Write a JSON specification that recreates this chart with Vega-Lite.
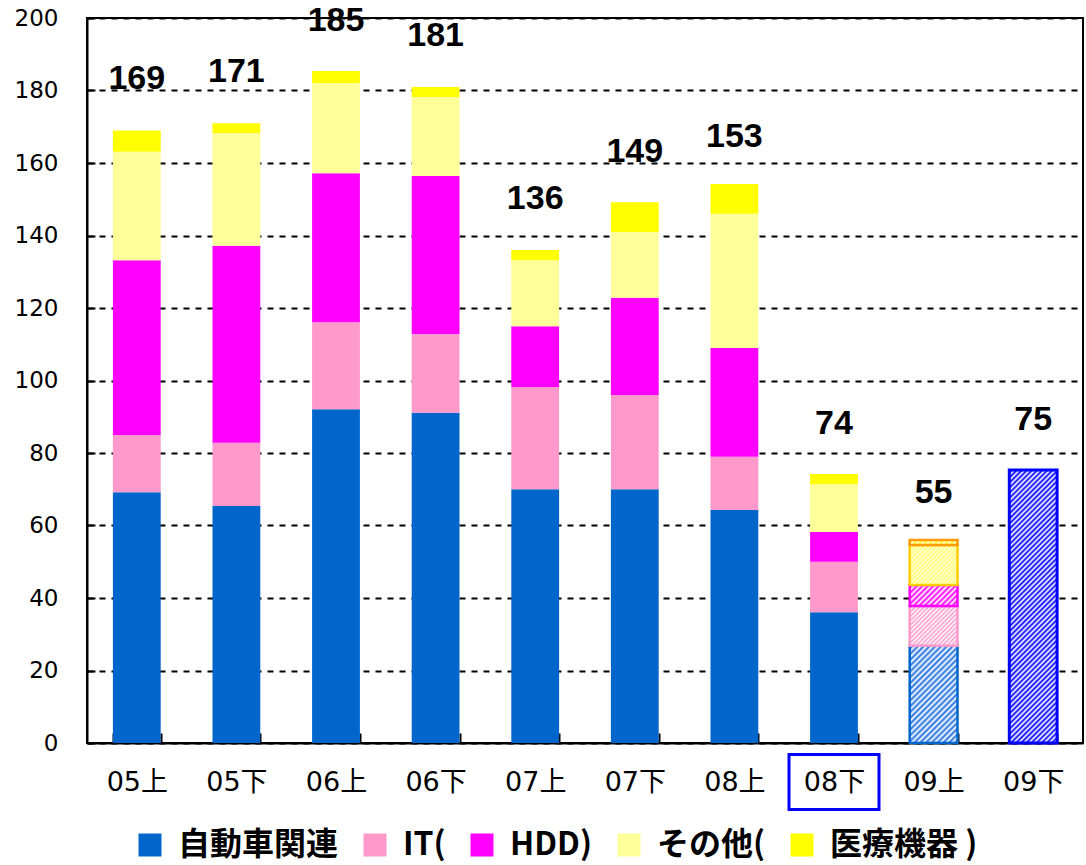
{
  "$schema": "https://vega.github.io/schema/vega-lite/v6.json",
  "width": 996,
  "height": 725,
  "autosize": {"type": "none"},
  "padding": {"left": 87, "top": 18, "right": 3, "bottom": 122},
  "background": "white",
  "config": {"view": {"stroke": "black", "strokeWidth": 2}, "font": "DejaVu Sans"},
  "datasets": {
    "segments": [
      {"period": "05上", "series": "自動車関連", "k": 1, "kind": "実績", "value": 69.2},
      {"period": "05上", "series": "IT(", "k": 2, "kind": "実績", "value": 15.8},
      {"period": "05上", "series": "HDD)", "k": 3, "kind": "実績", "value": 48.2},
      {"period": "05上", "series": "その他(", "k": 4, "kind": "実績", "value": 29.9},
      {"period": "05上", "series": "医療機器 )", "k": 5, "kind": "実績", "value": 5.9},
      {"period": "05下", "series": "自動車関連", "k": 1, "kind": "実績", "value": 65.4},
      {"period": "05下", "series": "IT(", "k": 2, "kind": "実績", "value": 17.4},
      {"period": "05下", "series": "HDD)", "k": 3, "kind": "実績", "value": 54.4},
      {"period": "05下", "series": "その他(", "k": 4, "kind": "実績", "value": 31.1},
      {"period": "05下", "series": "医療機器 )", "k": 5, "kind": "実績", "value": 2.7},
      {"period": "06上", "series": "自動車関連", "k": 1, "kind": "実績", "value": 92.1},
      {"period": "06上", "series": "IT(", "k": 2, "kind": "実績", "value": 24.0},
      {"period": "06上", "series": "HDD)", "k": 3, "kind": "実績", "value": 41.1},
      {"period": "06上", "series": "その他(", "k": 4, "kind": "実績", "value": 24.9},
      {"period": "06上", "series": "医療機器 )", "k": 5, "kind": "実績", "value": 3.3},
      {"period": "06下", "series": "自動車関連", "k": 1, "kind": "実績", "value": 91.1},
      {"period": "06下", "series": "IT(", "k": 2, "kind": "実績", "value": 21.7},
      {"period": "06下", "series": "HDD)", "k": 3, "kind": "実績", "value": 43.6},
      {"period": "06下", "series": "その他(", "k": 4, "kind": "実績", "value": 21.8},
      {"period": "06下", "series": "医療機器 )", "k": 5, "kind": "実績", "value": 2.8},
      {"period": "07上", "series": "自動車関連", "k": 1, "kind": "実績", "value": 70.0},
      {"period": "07上", "series": "IT(", "k": 2, "kind": "実績", "value": 28.2},
      {"period": "07上", "series": "HDD)", "k": 3, "kind": "実績", "value": 16.8},
      {"period": "07上", "series": "その他(", "k": 4, "kind": "実績", "value": 18.2},
      {"period": "07上", "series": "医療機器 )", "k": 5, "kind": "実績", "value": 2.8},
      {"period": "07下", "series": "自動車関連", "k": 1, "kind": "実績", "value": 70.0},
      {"period": "07下", "series": "IT(", "k": 2, "kind": "実績", "value": 26.0},
      {"period": "07下", "series": "HDD)", "k": 3, "kind": "実績", "value": 26.8},
      {"period": "07下", "series": "その他(", "k": 4, "kind": "実績", "value": 18.2},
      {"period": "07下", "series": "医療機器 )", "k": 5, "kind": "実績", "value": 8.2},
      {"period": "08上", "series": "自動車関連", "k": 1, "kind": "実績", "value": 64.3},
      {"period": "08上", "series": "IT(", "k": 2, "kind": "実績", "value": 14.7},
      {"period": "08上", "series": "HDD)", "k": 3, "kind": "実績", "value": 30.0},
      {"period": "08上", "series": "その他(", "k": 4, "kind": "実績", "value": 37.0},
      {"period": "08上", "series": "医療機器 )", "k": 5, "kind": "実績", "value": 8.2},
      {"period": "08下", "series": "自動車関連", "k": 1, "kind": "実績", "value": 36.1},
      {"period": "08下", "series": "IT(", "k": 2, "kind": "実績", "value": 13.9},
      {"period": "08下", "series": "HDD)", "k": 3, "kind": "実績", "value": 8.2},
      {"period": "08下", "series": "その他(", "k": 4, "kind": "実績", "value": 13.2},
      {"period": "08下", "series": "医療機器 )", "k": 5, "kind": "実績", "value": 2.8},
      {"period": "09上", "series": "自動車関連", "k": 1, "kind": "見通し", "value": 26.8},
      {"period": "09上", "series": "IT(", "k": 2, "kind": "見通し", "value": 11.0},
      {"period": "09上", "series": "HDD)", "k": 3, "kind": "見通し", "value": 5.8},
      {"period": "09上", "series": "その他(", "k": 4, "kind": "見通し", "value": 11.0},
      {"period": "09上", "series": "医療機器 )", "k": 5, "kind": "見通し", "value": 1.4},
      {"period": "09下", "series": "合計", "k": 1, "kind": "見通し", "value": 75.3}
    ],
    "totals": [
      {"period": "05上", "total": 169},
      {"period": "05下", "total": 171},
      {"period": "06上", "total": 185},
      {"period": "06下", "total": 181},
      {"period": "07上", "total": 136},
      {"period": "07下", "total": 149},
      {"period": "08上", "total": 153},
      {"period": "08下", "total": 74},
      {"period": "09上", "total": 55},
      {"period": "09下", "total": 75}
    ],
    "marked": [{"period": "08下"}]
  },
  "encoding": {
    "x": {
      "field": "period",
      "type": "nominal",
      "sort": ["05上", "05下", "06上", "06下", "07上", "07下", "08上", "08下", "09上", "09下"],
      "scale": {"paddingInner": 0.52, "paddingOuter": 0.26},
      "axis": {
        "title": null,
        "labelAngle": 0,
        "labelFont": "DejaVu Sans, Noto Sans CJK JP",
        "labelFontSize": 27,
        "labelColor": "black",
        "labelPadding": 36,
        "tickBand": "extent",
        "tickSize": -10,
        "tickColor": "black",
        "tickWidth": 2,
        "domainColor": "black",
        "domainWidth": 2,
        "grid": false
      }
    }
  },
  "layer": [
    {
      "data": {"name": "segments"},
      "transform": [{"filter": "datum.kind === '実績'"}],
      "mark": {"type": "bar"},
      "encoding": {
        "y": {
          "field": "value",
          "type": "quantitative",
          "stack": "zero",
          "scale": {"domain": [0, 200], "nice": false},
          "axis": {
            "title": null,
            "values": [0, 20, 40, 60, 80, 100, 120, 140, 160, 180, 200],
            "labelFont": "DejaVu Sans",
            "labelFontSize": 23,
            "labelColor": "black",
            "labelPadding": 37,
            "tickSize": -8,
            "tickColor": "black",
            "tickWidth": 2,
            "domainColor": "black",
            "domainWidth": 2,
            "grid": true,
            "gridColor": "black",
            "gridWidth": 2,
            "gridDash": [6, 6]
          }
        },
        "order": {"field": "k", "type": "quantitative"},
        "color": {
          "field": "series",
          "type": "nominal",
          "scale": {
            "domain": ["自動車関連", "IT(", "HDD)", "その他(", "医療機器 )"],
            "range": ["#0066cc", "#ff99cc", "#ff00ff", "#ffff99", "#ffff00"]
          },
          "legend": {
            "orient": "none",
            "legendX": 47,
            "legendY": 811,
            "direction": "horizontal",
            "title": null,
            "padding": 0,
            "symbolType": "square",
            "symbolSize": 529,
            "symbolStrokeWidth": 0,
            "labelFont": "Noto Sans CJK JP",
            "labelFontSize": 32,
            "labelFontWeight": "bold",
            "labelColor": "black",
            "labelOffset": 12,
            "labelLimit": 400,
            "columnPadding": 20
          }
        }
      }
    },
    {
      "data": {"name": "segments"},
      "transform": [
        {"filter": "datum.kind === '見通し'"},
        {"stack": "value", "groupby": ["period"], "sort": [{"field": "k", "order": "ascending"}], "as": ["v0", "v1"]},
        {"filter": "datum.series === '合計'"}
      ],
      "mark": {
        "type": "bar",
        "stroke": "#0000ff",
        "strokeWidth": 3,
        "fill": {
          "gradient": "linear", "x1": 0, "y1": 0, "x2": 0.2003, "y2": 1.1397,
          "stops": [
            {"offset": 0, "color": "#ffffff"}, {"offset": 0.008, "color": "#0000ff"}, {"offset": 0.016, "color": "#ffffff"}, {"offset": 0.024, "color": "#0000ff"},
            {"offset": 0.032, "color": "#ffffff"}, {"offset": 0.04, "color": "#0000ff"}, {"offset": 0.048, "color": "#ffffff"}, {"offset": 0.056, "color": "#0000ff"},
            {"offset": 0.064, "color": "#ffffff"}, {"offset": 0.072, "color": "#0000ff"}, {"offset": 0.08, "color": "#ffffff"}, {"offset": 0.088, "color": "#0000ff"},
            {"offset": 0.096, "color": "#ffffff"}, {"offset": 0.104, "color": "#0000ff"}, {"offset": 0.112, "color": "#ffffff"}, {"offset": 0.12, "color": "#0000ff"},
            {"offset": 0.128, "color": "#ffffff"}, {"offset": 0.136, "color": "#0000ff"}, {"offset": 0.144, "color": "#ffffff"}, {"offset": 0.152, "color": "#0000ff"},
            {"offset": 0.16, "color": "#ffffff"}, {"offset": 0.168, "color": "#0000ff"}, {"offset": 0.176, "color": "#ffffff"}, {"offset": 0.184, "color": "#0000ff"},
            {"offset": 0.192, "color": "#ffffff"}, {"offset": 0.2, "color": "#0000ff"}, {"offset": 0.208, "color": "#ffffff"}, {"offset": 0.216, "color": "#0000ff"},
            {"offset": 0.224, "color": "#ffffff"}, {"offset": 0.232, "color": "#0000ff"}, {"offset": 0.24, "color": "#ffffff"}, {"offset": 0.248, "color": "#0000ff"},
            {"offset": 0.256, "color": "#ffffff"}, {"offset": 0.264, "color": "#0000ff"}, {"offset": 0.272, "color": "#ffffff"}, {"offset": 0.28, "color": "#0000ff"},
            {"offset": 0.288, "color": "#ffffff"}, {"offset": 0.296, "color": "#0000ff"}, {"offset": 0.304, "color": "#ffffff"}, {"offset": 0.312, "color": "#0000ff"},
            {"offset": 0.32, "color": "#ffffff"}, {"offset": 0.328, "color": "#0000ff"}, {"offset": 0.336, "color": "#ffffff"}, {"offset": 0.344, "color": "#0000ff"},
            {"offset": 0.352, "color": "#ffffff"}, {"offset": 0.36, "color": "#0000ff"}, {"offset": 0.368, "color": "#ffffff"}, {"offset": 0.376, "color": "#0000ff"},
            {"offset": 0.384, "color": "#ffffff"}, {"offset": 0.392, "color": "#0000ff"}, {"offset": 0.4, "color": "#ffffff"}, {"offset": 0.408, "color": "#0000ff"},
            {"offset": 0.416, "color": "#ffffff"}, {"offset": 0.424, "color": "#0000ff"}, {"offset": 0.432, "color": "#ffffff"}, {"offset": 0.44, "color": "#0000ff"},
            {"offset": 0.448, "color": "#ffffff"}, {"offset": 0.456, "color": "#0000ff"}, {"offset": 0.464, "color": "#ffffff"}, {"offset": 0.472, "color": "#0000ff"},
            {"offset": 0.48, "color": "#ffffff"}, {"offset": 0.488, "color": "#0000ff"}, {"offset": 0.496, "color": "#ffffff"}, {"offset": 0.504, "color": "#0000ff"},
            {"offset": 0.512, "color": "#ffffff"}, {"offset": 0.52, "color": "#0000ff"}, {"offset": 0.528, "color": "#ffffff"}, {"offset": 0.536, "color": "#0000ff"},
            {"offset": 0.544, "color": "#ffffff"}, {"offset": 0.552, "color": "#0000ff"}, {"offset": 0.56, "color": "#ffffff"}, {"offset": 0.568, "color": "#0000ff"},
            {"offset": 0.576, "color": "#ffffff"}, {"offset": 0.584, "color": "#0000ff"}, {"offset": 0.592, "color": "#ffffff"}, {"offset": 0.6, "color": "#0000ff"},
            {"offset": 0.608, "color": "#ffffff"}, {"offset": 0.616, "color": "#0000ff"}, {"offset": 0.624, "color": "#ffffff"}, {"offset": 0.632, "color": "#0000ff"},
            {"offset": 0.64, "color": "#ffffff"}, {"offset": 0.648, "color": "#0000ff"}, {"offset": 0.656, "color": "#ffffff"}, {"offset": 0.664, "color": "#0000ff"},
            {"offset": 0.672, "color": "#ffffff"}, {"offset": 0.68, "color": "#0000ff"}, {"offset": 0.688, "color": "#ffffff"}, {"offset": 0.696, "color": "#0000ff"},
            {"offset": 0.704, "color": "#ffffff"}, {"offset": 0.712, "color": "#0000ff"}, {"offset": 0.72, "color": "#ffffff"}, {"offset": 0.728, "color": "#0000ff"},
            {"offset": 0.736, "color": "#ffffff"}, {"offset": 0.744, "color": "#0000ff"}, {"offset": 0.752, "color": "#ffffff"}, {"offset": 0.76, "color": "#0000ff"},
            {"offset": 0.768, "color": "#ffffff"}, {"offset": 0.776, "color": "#0000ff"}, {"offset": 0.784, "color": "#ffffff"}, {"offset": 0.792, "color": "#0000ff"},
            {"offset": 0.8, "color": "#ffffff"}, {"offset": 0.808, "color": "#0000ff"}, {"offset": 0.816, "color": "#ffffff"}, {"offset": 0.824, "color": "#0000ff"},
            {"offset": 0.832, "color": "#ffffff"}, {"offset": 0.84, "color": "#0000ff"}, {"offset": 0.848, "color": "#ffffff"}, {"offset": 0.856, "color": "#0000ff"},
            {"offset": 0.864, "color": "#ffffff"}, {"offset": 0.872, "color": "#0000ff"}, {"offset": 0.88, "color": "#ffffff"}, {"offset": 0.888, "color": "#0000ff"},
            {"offset": 0.896, "color": "#ffffff"}, {"offset": 0.904, "color": "#0000ff"}, {"offset": 0.912, "color": "#ffffff"}, {"offset": 0.92, "color": "#0000ff"},
            {"offset": 0.928, "color": "#ffffff"}, {"offset": 0.936, "color": "#0000ff"}, {"offset": 0.944, "color": "#ffffff"}, {"offset": 0.952, "color": "#0000ff"},
            {"offset": 0.96, "color": "#ffffff"}, {"offset": 0.968, "color": "#0000ff"}, {"offset": 0.976, "color": "#ffffff"}, {"offset": 0.984, "color": "#0000ff"},
            {"offset": 0.992, "color": "#ffffff"}, {"offset": 1, "color": "#0000ff"}
          ]
        }
      },
      "encoding": {
        "y": {"field": "v0", "type": "quantitative"},
        "y2": {"field": "v1"}
      }
    },
    {
      "data": {"name": "segments"},
      "transform": [
        {"filter": "datum.kind === '見通し'"},
        {"stack": "value", "groupby": ["period"], "sort": [{"field": "k", "order": "ascending"}], "as": ["v0", "v1"]},
        {"filter": "datum.series === '自動車関連'"}
      ],
      "mark": {
        "type": "bar",
        "stroke": "#0066cc",
        "strokeWidth": 2.5,
        "fill": {
          "gradient": "linear", "x1": 0, "y1": 0, "x2": 0.5931, "y2": 1.201,
          "stops": [
            {"offset": 0, "color": "#ffffff"}, {"offset": 0.02, "color": "#1f6fe0"}, {"offset": 0.04, "color": "#ffffff"}, {"offset": 0.06, "color": "#1f6fe0"},
            {"offset": 0.08, "color": "#ffffff"}, {"offset": 0.1, "color": "#1f6fe0"}, {"offset": 0.12, "color": "#ffffff"}, {"offset": 0.14, "color": "#1f6fe0"},
            {"offset": 0.16, "color": "#ffffff"}, {"offset": 0.18, "color": "#1f6fe0"}, {"offset": 0.2, "color": "#ffffff"}, {"offset": 0.22, "color": "#1f6fe0"},
            {"offset": 0.24, "color": "#ffffff"}, {"offset": 0.26, "color": "#1f6fe0"}, {"offset": 0.28, "color": "#ffffff"}, {"offset": 0.3, "color": "#1f6fe0"},
            {"offset": 0.32, "color": "#ffffff"}, {"offset": 0.34, "color": "#1f6fe0"}, {"offset": 0.36, "color": "#ffffff"}, {"offset": 0.38, "color": "#1f6fe0"},
            {"offset": 0.4, "color": "#ffffff"}, {"offset": 0.42, "color": "#1f6fe0"}, {"offset": 0.44, "color": "#ffffff"}, {"offset": 0.46, "color": "#1f6fe0"},
            {"offset": 0.48, "color": "#ffffff"}, {"offset": 0.5, "color": "#1f6fe0"}, {"offset": 0.52, "color": "#ffffff"}, {"offset": 0.54, "color": "#1f6fe0"},
            {"offset": 0.56, "color": "#ffffff"}, {"offset": 0.58, "color": "#1f6fe0"}, {"offset": 0.6, "color": "#ffffff"}, {"offset": 0.62, "color": "#1f6fe0"},
            {"offset": 0.64, "color": "#ffffff"}, {"offset": 0.66, "color": "#1f6fe0"}, {"offset": 0.68, "color": "#ffffff"}, {"offset": 0.7, "color": "#1f6fe0"},
            {"offset": 0.72, "color": "#ffffff"}, {"offset": 0.74, "color": "#1f6fe0"}, {"offset": 0.76, "color": "#ffffff"}, {"offset": 0.78, "color": "#1f6fe0"},
            {"offset": 0.8, "color": "#ffffff"}, {"offset": 0.82, "color": "#1f6fe0"}, {"offset": 0.84, "color": "#ffffff"}, {"offset": 0.86, "color": "#1f6fe0"},
            {"offset": 0.88, "color": "#ffffff"}, {"offset": 0.9, "color": "#1f6fe0"}, {"offset": 0.92, "color": "#ffffff"}, {"offset": 0.94, "color": "#1f6fe0"},
            {"offset": 0.96, "color": "#ffffff"}, {"offset": 0.98, "color": "#1f6fe0"}, {"offset": 1, "color": "#ffffff"}
          ]
        }
      },
      "encoding": {
        "y": {"field": "v0", "type": "quantitative"},
        "y2": {"field": "v1"}
      }
    },
    {
      "data": {"name": "segments"},
      "transform": [
        {"filter": "datum.kind === '見通し'"},
        {"stack": "value", "groupby": ["period"], "sort": [{"field": "k", "order": "ascending"}], "as": ["v0", "v1"]},
        {"filter": "datum.series === 'IT('"}
      ],
      "mark": {
        "type": "bar",
        "stroke": "#ff99cc",
        "strokeWidth": 2.5,
        "fill": {
          "gradient": "linear", "x1": 0, "y1": 0, "x2": 1.0831, "y2": 0.9001,
          "stops": [
            {"offset": 0, "color": "#ffffff"}, {"offset": 0.025, "color": "#ff99cc"}, {"offset": 0.05, "color": "#ffffff"}, {"offset": 0.075, "color": "#ff99cc"},
            {"offset": 0.1, "color": "#ffffff"}, {"offset": 0.125, "color": "#ff99cc"}, {"offset": 0.15, "color": "#ffffff"}, {"offset": 0.175, "color": "#ff99cc"},
            {"offset": 0.2, "color": "#ffffff"}, {"offset": 0.225, "color": "#ff99cc"}, {"offset": 0.25, "color": "#ffffff"}, {"offset": 0.275, "color": "#ff99cc"},
            {"offset": 0.3, "color": "#ffffff"}, {"offset": 0.325, "color": "#ff99cc"}, {"offset": 0.35, "color": "#ffffff"}, {"offset": 0.375, "color": "#ff99cc"},
            {"offset": 0.4, "color": "#ffffff"}, {"offset": 0.425, "color": "#ff99cc"}, {"offset": 0.45, "color": "#ffffff"}, {"offset": 0.475, "color": "#ff99cc"},
            {"offset": 0.5, "color": "#ffffff"}, {"offset": 0.525, "color": "#ff99cc"}, {"offset": 0.55, "color": "#ffffff"}, {"offset": 0.575, "color": "#ff99cc"},
            {"offset": 0.6, "color": "#ffffff"}, {"offset": 0.625, "color": "#ff99cc"}, {"offset": 0.65, "color": "#ffffff"}, {"offset": 0.675, "color": "#ff99cc"},
            {"offset": 0.7, "color": "#ffffff"}, {"offset": 0.725, "color": "#ff99cc"}, {"offset": 0.75, "color": "#ffffff"}, {"offset": 0.775, "color": "#ff99cc"},
            {"offset": 0.8, "color": "#ffffff"}, {"offset": 0.825, "color": "#ff99cc"}, {"offset": 0.85, "color": "#ffffff"}, {"offset": 0.875, "color": "#ff99cc"},
            {"offset": 0.9, "color": "#ffffff"}, {"offset": 0.925, "color": "#ff99cc"}, {"offset": 0.95, "color": "#ffffff"}, {"offset": 0.975, "color": "#ff99cc"},
            {"offset": 1, "color": "#ffffff"}
          ]
        }
      },
      "encoding": {
        "y": {"field": "v0", "type": "quantitative"},
        "y2": {"field": "v1"}
      }
    },
    {
      "data": {"name": "segments"},
      "transform": [
        {"filter": "datum.kind === '見通し'"},
        {"stack": "value", "groupby": ["period"], "sort": [{"field": "k", "order": "ascending"}], "as": ["v0", "v1"]},
        {"filter": "datum.series === 'HDD)'"}
      ],
      "mark": {
        "type": "bar",
        "stroke": "#ff00ff",
        "strokeWidth": 2.5,
        "fill": {
          "gradient": "linear", "x1": 0, "y1": 0, "x2": 1.2066, "y2": 0.5279,
          "stops": [
            {"offset": 0, "color": "#ffffff"}, {"offset": 0.04, "color": "#ff00ff"}, {"offset": 0.08, "color": "#ffffff"}, {"offset": 0.12, "color": "#ff00ff"},
            {"offset": 0.16, "color": "#ffffff"}, {"offset": 0.2, "color": "#ff00ff"}, {"offset": 0.24, "color": "#ffffff"}, {"offset": 0.28, "color": "#ff00ff"},
            {"offset": 0.32, "color": "#ffffff"}, {"offset": 0.36, "color": "#ff00ff"}, {"offset": 0.4, "color": "#ffffff"}, {"offset": 0.44, "color": "#ff00ff"},
            {"offset": 0.48, "color": "#ffffff"}, {"offset": 0.52, "color": "#ff00ff"}, {"offset": 0.56, "color": "#ffffff"}, {"offset": 0.6, "color": "#ff00ff"},
            {"offset": 0.64, "color": "#ffffff"}, {"offset": 0.68, "color": "#ff00ff"}, {"offset": 0.72, "color": "#ffffff"}, {"offset": 0.76, "color": "#ff00ff"},
            {"offset": 0.8, "color": "#ffffff"}, {"offset": 0.84, "color": "#ff00ff"}, {"offset": 0.88, "color": "#ffffff"}, {"offset": 0.92, "color": "#ff00ff"},
            {"offset": 0.96, "color": "#ffffff"}, {"offset": 1, "color": "#ff00ff"}
          ]
        }
      },
      "encoding": {
        "y": {"field": "v0", "type": "quantitative"},
        "y2": {"field": "v1"}
      }
    },
    {
      "data": {"name": "segments"},
      "transform": [
        {"filter": "datum.kind === '見通し'"},
        {"stack": "value", "groupby": ["period"], "sort": [{"field": "k", "order": "ascending"}], "as": ["v0", "v1"]},
        {"filter": "datum.series === 'その他('"}
      ],
      "mark": {
        "type": "bar",
        "stroke": "#ffcc00",
        "strokeWidth": 2.5,
        "fill": {
          "gradient": "linear", "x1": 0, "y1": 0, "x2": 1.0831, "y2": 0.9001,
          "stops": [
            {"offset": 0, "color": "#ffffe6"}, {"offset": 0.025, "color": "#ffff66"}, {"offset": 0.05, "color": "#ffffe6"}, {"offset": 0.075, "color": "#ffff66"},
            {"offset": 0.1, "color": "#ffffe6"}, {"offset": 0.125, "color": "#ffff66"}, {"offset": 0.15, "color": "#ffffe6"}, {"offset": 0.175, "color": "#ffff66"},
            {"offset": 0.2, "color": "#ffffe6"}, {"offset": 0.225, "color": "#ffff66"}, {"offset": 0.25, "color": "#ffffe6"}, {"offset": 0.275, "color": "#ffff66"},
            {"offset": 0.3, "color": "#ffffe6"}, {"offset": 0.325, "color": "#ffff66"}, {"offset": 0.35, "color": "#ffffe6"}, {"offset": 0.375, "color": "#ffff66"},
            {"offset": 0.4, "color": "#ffffe6"}, {"offset": 0.425, "color": "#ffff66"}, {"offset": 0.45, "color": "#ffffe6"}, {"offset": 0.475, "color": "#ffff66"},
            {"offset": 0.5, "color": "#ffffe6"}, {"offset": 0.525, "color": "#ffff66"}, {"offset": 0.55, "color": "#ffffe6"}, {"offset": 0.575, "color": "#ffff66"},
            {"offset": 0.6, "color": "#ffffe6"}, {"offset": 0.625, "color": "#ffff66"}, {"offset": 0.65, "color": "#ffffe6"}, {"offset": 0.675, "color": "#ffff66"},
            {"offset": 0.7, "color": "#ffffe6"}, {"offset": 0.725, "color": "#ffff66"}, {"offset": 0.75, "color": "#ffffe6"}, {"offset": 0.775, "color": "#ffff66"},
            {"offset": 0.8, "color": "#ffffe6"}, {"offset": 0.825, "color": "#ffff66"}, {"offset": 0.85, "color": "#ffffe6"}, {"offset": 0.875, "color": "#ffff66"},
            {"offset": 0.9, "color": "#ffffe6"}, {"offset": 0.925, "color": "#ffff66"}, {"offset": 0.95, "color": "#ffffe6"}, {"offset": 0.975, "color": "#ffff66"},
            {"offset": 1, "color": "#ffffe6"}
          ]
        }
      },
      "encoding": {
        "y": {"field": "v0", "type": "quantitative"},
        "y2": {"field": "v1"}
      }
    },
    {
      "data": {"name": "segments"},
      "transform": [
        {"filter": "datum.kind === '見通し'"},
        {"stack": "value", "groupby": ["period"], "sort": [{"field": "k", "order": "ascending"}], "as": ["v0", "v1"]},
        {"filter": "datum.series === '医療機器 )'"}
      ],
      "mark": {
        "type": "bar",
        "stroke": "#ff9900",
        "strokeWidth": 2.5,
        "fill": {
          "gradient": "linear", "x1": 0, "y1": 0, "x2": 1.0937, "y2": 0.1159,
          "stops": [
            {"offset": 0, "color": "#ffffff"}, {"offset": 0.05, "color": "#ffff00"}, {"offset": 0.1, "color": "#ffffff"}, {"offset": 0.15, "color": "#ffff00"},
            {"offset": 0.2, "color": "#ffffff"}, {"offset": 0.25, "color": "#ffff00"}, {"offset": 0.3, "color": "#ffffff"}, {"offset": 0.35, "color": "#ffff00"},
            {"offset": 0.4, "color": "#ffffff"}, {"offset": 0.45, "color": "#ffff00"}, {"offset": 0.5, "color": "#ffffff"}, {"offset": 0.55, "color": "#ffff00"},
            {"offset": 0.6, "color": "#ffffff"}, {"offset": 0.65, "color": "#ffff00"}, {"offset": 0.7, "color": "#ffffff"}, {"offset": 0.75, "color": "#ffff00"},
            {"offset": 0.8, "color": "#ffffff"}, {"offset": 0.85, "color": "#ffff00"}, {"offset": 0.9, "color": "#ffffff"}, {"offset": 0.95, "color": "#ffff00"},
            {"offset": 1, "color": "#ffffff"}
          ]
        }
      },
      "encoding": {
        "y": {"field": "v0", "type": "quantitative"},
        "y2": {"field": "v1"}
      }
    },
    {
      "data": {"name": "totals"},
      "mark": {
        "type": "text",
        "font": "Liberation Sans",
        "fontSize": 34,
        "fontWeight": "bold",
        "color": "black",
        "baseline": "middle",
        "align": "center",
        "dy": -51
      },
      "encoding": {
        "y": {"field": "total", "type": "quantitative"},
        "text": {"field": "total", "type": "quantitative"}
      }
    },
    {
      "data": {"name": "marked"},
      "mark": {
        "type": "point",
        "shape": "M-1,-0.611H1V0.611H-1Z",
        "size": 8100,
        "filled": false,
        "stroke": "#0000ff",
        "strokeWidth": 3,
        "opacity": 1,
        "clip": false
      },
      "encoding": {
        "y": {"datum": -10.76, "type": "quantitative"}
      }
    }
  ]
}
